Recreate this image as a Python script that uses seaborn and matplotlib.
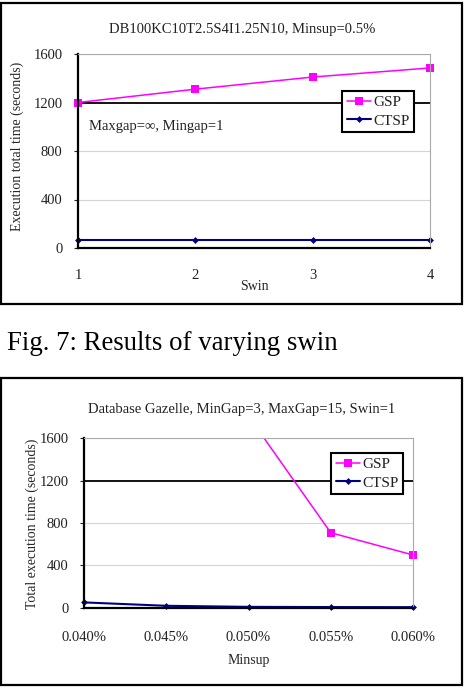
import numpy as np
import pandas as pd
import matplotlib
matplotlib.use("Agg")
import matplotlib.pyplot as plt
from matplotlib.patches import Rectangle
import seaborn as sns

# data
swin = [1, 2, 3, 4]
gsp_swin = [1200, 1310, 1410, 1485]
ctsp_swin = [65, 65, 65, 65]

minsup_labels = ['0.040%', '0.045%', '0.050%', '0.055%', '0.060%']
gsp_minsup = [np.nan, np.nan, 1810, 708, 498]   # first two are off the chart
ctsp_minsup = [50, 18, 8, 6, 5]

sns.set_style('white')
plt.rcParams['font.family'] = ['Liberation Serif', 'DejaVu Serif']
plt.rcParams['text.color'] = '#222222'
plt.rcParams['xtick.color'] = '#222222'
plt.rcParams['ytick.color'] = '#222222'

W, H = 470, 688
fig = plt.figure(figsize=(W / 100, H / 100), dpi=100)

GSP_COL = '#ff00ff'
CTSP_COL = '#000080'


def box(x0, y0, x1, y1):
    # outer frame around each chart, pixel coords from top-left
    fig.patches.append(Rectangle((x0 / W, 1 - y1 / H), (x1 - x0) / W, (y1 - y0) / H,
                                 transform=fig.transFigure, fill=False,
                                 edgecolor='black', linewidth=1.6))


def wide_clip(ax):
    # let markers on the left/right edge show whole, but still cut at top/bottom
    for ln in ax.get_lines():
        clip = Rectangle((-0.05, -0.05), 1.1, 1.05, transform=ax.transAxes)
        ln.set_clip_path(clip)


def style_axes(ax):
    ax.set_ylim(0, 1600)
    ax.set_yticks([0, 400, 800, 1200, 1600])
    ax.yaxis.grid(True, color='#d4d4d4', linewidth=0.8)
    ax.get_ygridlines()[3].set_color('black')
    ax.get_ygridlines()[3].set_linewidth(1.3)
    ax.set_axisbelow(True)
    for s in ['left', 'bottom']:
        ax.spines[s].set_color('black')
        ax.spines[s].set_linewidth(1.6)
    for s in ['top', 'right']:
        ax.spines[s].set_color('#aaaaaa')
        ax.spines[s].set_linewidth(0.8)
    ax.tick_params(axis='y', length=3, width=0.8, pad=8, labelsize=10.5, left=True)
    ax.tick_params(axis='x', length=0, labelsize=10.5, bottom=True)


def legend(ax, x, y):
    leg = ax.legend(loc='upper left', bbox_to_anchor=(x, y), fontsize=11,
                    frameon=True, fancybox=False, handlelength=1.6, handletextpad=0.15,
                    borderpad=0.3, labelspacing=0.3, borderaxespad=0)
    leg.get_frame().set_edgecolor('black')
    leg.get_frame().set_linewidth(1.5)
    leg.get_frame().set_alpha(1)


# ---- top chart: varying swin
box(1, 3, 462, 304)
ax1 = fig.add_axes([78 / W, 1 - 248 / H, 352 / W, 194 / H])
df1 = pd.DataFrame({'Swin': swin, 'GSP': gsp_swin, 'CTSP': ctsp_swin})
sns.lineplot(data=df1, x='Swin', y='GSP', ax=ax1, color=GSP_COL, marker='s',
             markersize=5.5, markeredgewidth=0, linewidth=1.1, label='GSP')
sns.lineplot(data=df1, x='Swin', y='CTSP', ax=ax1, color=CTSP_COL, marker='D',
             markersize=3.5, markeredgewidth=0, linewidth=1.5, label='CTSP')
style_axes(ax1)
ax1.set_xlim(1, 4)
ax1.set_xticks(swin)
ax1.tick_params(axis='x', pad=15)
ax1.set_xlabel('Swin', fontsize=10)
ax1.xaxis.set_label_coords(0.5, -0.2)
ax1.xaxis.label.set_va('center')
ax1.set_ylabel('Execution total time (seconds)', fontsize=10)
ax1.yaxis.set_label_coords(-0.173, 0.523)
ax1.yaxis.label.set_va('center')
ax1.text(1.09, 1000, 'Maxgap=\u221e, Mingap=1', fontsize=10.5, va='center', ha='left')
legend(ax1, 0.75, 0.809)
wide_clip(ax1)
fig.text(242 / W, 1 - 30 / H, 'DB100KC10T2.5S4I1.25N10, Minsup=0.5%', fontsize=10.5,
         ha='center', va='center')

# caption
fig.text(7 / W, 1 - 343 / H, 'Fig. 7: Results of varying swin', fontsize=19.3,
         ha='left', va='center', color='black')

# ---- bottom chart: varying minsup
box(1, 378, 462, 685)
ax2 = fig.add_axes([84 / W, 1 - 607.7 / H, 329 / W, 169.4 / H])
pos = np.arange(len(minsup_labels))
df2 = pd.DataFrame({'pos': pos, 'GSP': gsp_minsup, 'CTSP': ctsp_minsup})
sns.lineplot(data=df2, x='pos', y='GSP', ax=ax2, color=GSP_COL, marker='s',
             markersize=5.5, markeredgewidth=0, linewidth=1.1, label='GSP')
sns.lineplot(data=df2, x='pos', y='CTSP', ax=ax2, color=CTSP_COL, marker='D',
             markersize=3.5, markeredgewidth=0, linewidth=1.5, label='CTSP')
style_axes(ax2)
ax2.set_xlim(0, len(minsup_labels) - 1)
ax2.set_xticks(pos)
ax2.set_xticklabels(minsup_labels)
ax2.tick_params(axis='x', pad=17)
ax2.set_xlabel('Minsup', fontsize=10)
ax2.xaxis.set_label_coords(0.5, -0.309)
ax2.xaxis.label.set_va('center')
ax2.set_ylabel('Total execution time (seconds)', fontsize=10)
ax2.yaxis.set_label_coords(-0.158, 0.494)
ax2.yaxis.label.set_va('center')
legend(ax2, 0.751, 0.913)
wide_clip(ax2)
fig.text(242 / W, 1 - 410 / H, 'Database Gazelle, MinGap=3, MaxGap=15, Swin=1', fontsize=10.5,
         ha='center', va='center')

fig.savefig('out.png', dpi=100)
